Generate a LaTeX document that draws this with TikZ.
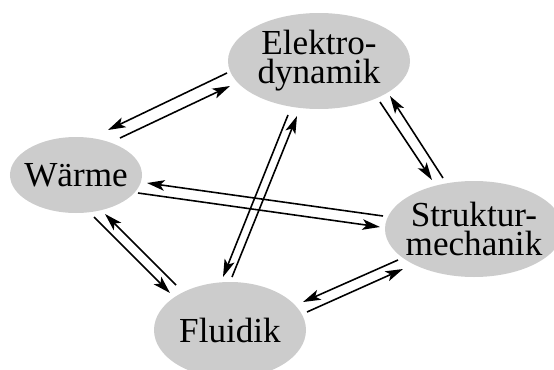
\documentclass[tikz,border=0pt]{standalone}
\usepackage{fontspec}
\setmainfont{Liberation Serif}
\usetikzlibrary{arrows.meta,shapes.geometric}
\definecolor{Gy}{RGB}{204,204,204}

\begin{document}
\begin{tikzpicture}[
  blob/.style={ellipse, fill=Gy, inner sep=0pt, inner xsep=-2pt, outer sep=0pt,
    align=center, font=\fontsize{10}{8.2}\selectfont},
  flow/.style={line width=0.45pt, -{Stealth[length=5pt,width=3pt,inset=1.2pt]}}]
  \useasboundingbox (0,0) rectangle (5.54,3.69);
  \clip (0,0) rectangle (5.54,3.69);
  % the four fields
  \node[blob, minimum width=1.82cm, minimum height=0.96cm] (el) at (3.19,3.08) {Elektro-\\dynamik};
  \node[blob, minimum width=1.32cm, minimum height=0.76cm] (wa) at (0.76,1.94) {Wärme};
  \node[blob, minimum width=1.78cm, minimum height=0.96cm] (st) at (4.74,1.40) {Struktur-\\mechanik};
  \node[blob, minimum width=1.52cm, minimum height=0.96cm] (fl) at (2.30,0.39) {Fluidik};
  % couplings, one line each way
  \draw[flow] ([shift={(-0.92,-0.12)}]el.center) -- ([shift={(0.32,0.45)}]wa.center);
  \draw[flow] ([shift={(0.44,0.37)}]wa.center) -- ([shift={(-0.89,-0.25)}]el.center);
  \draw[flow] ([shift={(-0.91,0.13)}]st.center) -- ([shift={(0.71,-0.08)}]wa.center);
  \draw[flow] ([shift={(0.62,-0.18)}]wa.center) -- ([shift={(-0.94,0.02)}]st.center);
  \draw[flow] ([shift={(0.18,-0.42)}]wa.center) -- ([shift={(-0.60,0.37)}]fl.center);
  \draw[flow] ([shift={(-0.54,0.45)}]fl.center) -- ([shift={(0.29,-0.39)}]wa.center);
  \draw[flow] ([shift={(-0.31,-0.54)}]el.center) -- ([shift={(-0.07,0.53)}]fl.center);
  \draw[flow] ([shift={(0.02,0.53)}]fl.center) -- ([shift={(-0.22,-0.55)}]el.center);
  \draw[flow] ([shift={(0.61,-0.41)}]el.center) -- ([shift={(-0.42,0.49)}]st.center);
  \draw[flow] ([shift={(-0.31,0.51)}]st.center) -- ([shift={(0.71,-0.35)}]el.center);
  \draw[flow] ([shift={(-0.76,-0.31)}]st.center) -- ([shift={(0.73,0.28)}]fl.center);
  \draw[flow] ([shift={(0.77,0.18)}]fl.center) -- ([shift={(-0.71,-0.40)}]st.center);
\end{tikzpicture}
\end{document}
